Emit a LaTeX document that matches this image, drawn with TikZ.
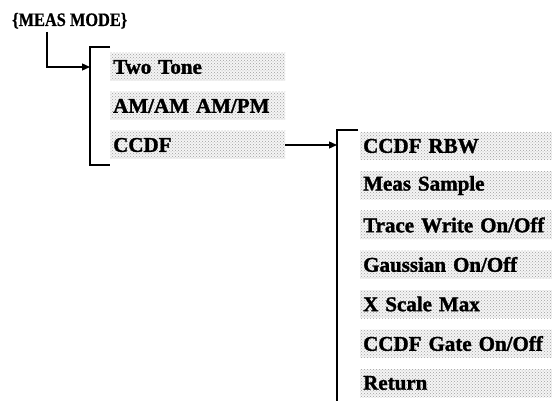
\documentclass[tikz,border=0pt]{standalone}
\usepackage{fontspec}
\setmainfont{Liberation Serif}
\newfontfamily\menufont[FakeBold=1.5,WordSpace=0.8]{Liberation Serif}
\newfontfamily\modefont[FakeStretch=0.86,FakeBold=0.6]{Liberation Serif}
\usetikzlibrary{arrows.meta,patterns}
\begin{document}
\begin{tikzpicture}[x=1pt,y=-1pt,
  menubox/.style={anchor=west, minimum height=28pt, inner xsep=3pt, inner ysep=0pt,
    align=left, font=\menufont\bfseries\fontsize{21}{22}\selectfont,
    preaction={fill=gray!8}, pattern=crosshatch dots, pattern color=gray!75},
  colone/.style={menubox, text width=169pt},
  coltwo/.style={menubox, text width=186pt},
  link/.style={line width=1.3pt},
  arr/.style={link, -{Triangle[length=8pt,width=7pt]}}]
\useasboundingbox (0,0) rectangle (552,401);
\node[anchor=base west, inner sep=0pt, font=\modefont\bfseries\fontsize{19}{20}\selectfont] (mode) at (12,26) {\{MEAS MODE\}};
% column 1
\node[colone] (two) at (110,67) {Two Tone};
\node[colone] (amam) at (110,106) {AM/AM AM/PM};
\node[colone] (ccdf) at (110,145) {CCDF};
\coordinate (b1top) at (90,47);
\coordinate (b1bot) at (90,165);
\draw[link] (110,47) -- (b1top) -- (b1bot) -- (110,165);
\coordinate (m0) at (47,32);
\draw[arr] (m0) |- (two.west -| b1top);
% column 2
\node[coltwo] (rbw) at (360,146) {CCDF RBW};
\node[coltwo] (samp) at (360,185.5) {Meas Sample};
\node[coltwo] (trace) at (360,225) {\mbox{Trace Write On/Off}};
\node[coltwo] (gauss) at (360,264.5) {Gaussian On/Off};
\node[coltwo] (xs) at (360,304) {X Scale Max};
\node[coltwo] (gate) at (360,343.5) {\mbox{CCDF Gate On/Off}};
\node[coltwo] (ret) at (360,383) {Return};
\coordinate (b2top) at (337,130);
\coordinate (b2bot) at (337,402);
\draw[link] (358,130) -- (b2top) -- (b2bot);
\draw[arr] (ccdf.east) -- (ccdf.east -| b2top);
\end{tikzpicture}
\end{document}
